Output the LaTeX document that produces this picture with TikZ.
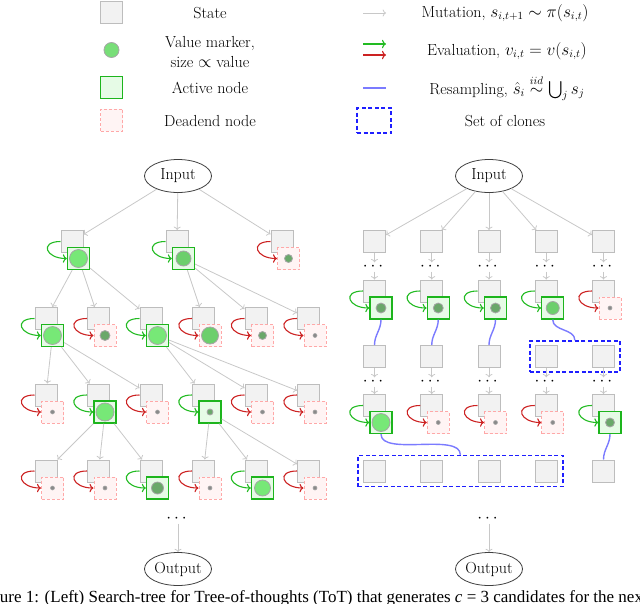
\documentclass[tikz,border=0pt]{standalone}
\usepackage{fontspec}
\usepackage{amsmath}
\usetikzlibrary{arrows.meta,positioning,fit,shapes.geometric}
\newfontfamily\capfont{Liberation Serif}
\definecolor{tsGrayFill}{HTML}{F2F2F2}
\definecolor{tsGrayDraw}{HTML}{BDBDBD}
\definecolor{tsActDraw}{HTML}{1DB51D}
\definecolor{tsActFill}{HTML}{E6FBE6}
\definecolor{tsDeadDraw}{HTML}{FFA8A8}
\definecolor{tsDeadFill}{HTML}{FFF4F4}
\definecolor{tsOk}{HTML}{22BB22}
\definecolor{tsNo}{HTML}{CC2222}
\definecolor{tsMut}{HTML}{C8C8C8}
\definecolor{tsRes}{HTML}{7B7BFF}
\definecolor{tsClone}{HTML}{1F1FFF}
\definecolor{tsMarkL}{HTML}{77E877}
\definecolor{tsMarkM}{HTML}{6CCF6C}
\definecolor{tsMarkS}{HTML}{6AA86A}
\definecolor{tsMarkT}{HTML}{8A8A8A}
\tikzset{
  tsstate/.style={
    rectangle, draw=tsGrayDraw, fill=tsGrayFill, line width=1pt,
    minimum size=22pt, inner sep=0pt
  },
  tsactive/.style={
    rectangle, draw=tsActDraw, fill=tsActFill, line width=1.3pt,
    minimum size=22pt, inner sep=0pt
  },
  tsdead/.style={
    rectangle, draw=tsDeadDraw, fill=tsDeadFill, line width=1pt,
    dash pattern=on 3pt off 2pt, minimum size=22pt, inner sep=0pt
  },
  tsoff/.style={xshift=6.5pt, yshift=-17pt},
  tsmark/.style={circle, draw=gray!70, line width=0.8pt, inner sep=0pt},
  tsmarkL/.style={tsmark, fill=tsMarkL, minimum size=18pt},
  tsmarkM/.style={tsmark, fill=tsMarkM, minimum size=14pt},
  tsmarkS/.style={tsmark, fill=tsMarkS, minimum size=10pt},
  tsmarkT/.style={tsmark, fill=tsMarkT, minimum size=4pt, line width=0.6pt},
  tsio/.style={
    ellipse, draw=black!75, line width=0.8pt,
    minimum width=67pt, minimum height=33pt, inner sep=0pt
  },
  tsdots/.style={inner sep=0pt, minimum height=9pt},
  tsmut/.style={-{To}, draw=tsMut, line width=0.8pt},
  tsevalok/.style={-{To}, draw=tsOk, line width=1.1pt, out=180, in=180, looseness=3},
  tsevalno/.style={-{To}, draw=tsNo, line width=1.1pt, out=180, in=180, looseness=3},
  tsres/.style={draw=tsRes, line width=1.4pt, out=-90, in=90},
  tsclones/.style={draw=tsClone, line width=1.5pt, dash pattern=on 4pt off 2.5pt,
    inner xsep=5pt, inner ysep=4pt},
  tslabel/.style={align=center, inner sep=0pt}
}

\begin{document}
\begin{tikzpicture}[x=1pt, y=-1pt, on grid, font=\fontsize{16pt}{20pt}\selectfont]
\clip (0,0) rectangle (640,603);

% Leyenda
\node[tsstate] (kState) at (111.5,12.5) {};
\node[tslabel] (tState) at (210,13) {State};
\node[tsmark, fill=tsMarkL!90!gray, minimum size=15pt] (kMark) at (111.5,50) {};
\node[tslabel] (tMark) at (210,52) {Value marker,\\ size $\propto$ value};
\node[tsactive] (kActive) at (111.5,87.5) {};
\node[tslabel] (tActive) at (210,88) {Active node};
\node[tsdead] (kDead) at (111.5,120) {};
\node[tslabel] (tDead) at (210,121) {Deadend node};

\coordinate (kMutA) at (363,13);  \coordinate (kMutB) at (386,13);
\coordinate (kOkA) at (363,44);   \coordinate (kOkB) at (386,44);
\coordinate (kNoA) at (363,55);   \coordinate (kNoB) at (386,55);
\coordinate (kResA) at (363,88);  \coordinate (kResB) at (386,88);
\draw[tsmut] (kMutA) -- (kMutB);
\draw[tsevalok] (kOkA) -- (kOkB);
\draw[tsevalno] (kNoA) -- (kNoB);
\draw[tsres] (kResA) -- (kResB);
\node[tsclones, minimum width=34pt, minimum height=25pt, inner sep=0pt] (kClone) at (374,120.5) {};
\node[tslabel] (tMut) at (505,13) {Mutation, $s_{i,t+1}\sim\pi(s_{i,t})$};
\node[tslabel] (tEval) at (507,51) {Evaluation, $v_{i,t}=v(s_{i,t})$};
\node[tslabel] (tRes) at (507,88) {Resampling, $\hat{s}_i\overset{iid}{\sim}\bigcup_j s_j$};
\node[tslabel] (tClone) at (505,121) {Set of clones};

% Árbol izquierdo: nivel 1
\node[tsio] (inL) at (178,176) {Input};
\node[tsstate] (l1a) at (72,241.5) {};
\node[tsstate, right=105pt of l1a] (l1b) {};
\node[tsstate, right=105pt of l1b] (l1c) {};
\node[tsactive, tsoff] (v1a) at (l1a) {}; \node[tsmarkL] (m1a) at (v1a) {};
\node[tsactive, tsoff] (v1b) at (l1b) {}; \node[tsmarkM, minimum size=15pt] (m1b) at (v1b) {};
\node[tsdead, tsoff] (v1c) at (l1c) {};   \node[tsmarkS, minimum size=8pt] (m1c) at (v1c) {};

% Árbol izquierdo: nivel 2
\node[tsstate] (l2a) at (46,318.5) {};
\node[tsstate, right=52.5pt of l2a] (l2b) {};
\node[tsstate, right=52.5pt of l2b] (l2c) {};
\node[tsstate, right=52.5pt of l2c] (l2d) {};
\node[tsstate, right=52.5pt of l2d] (l2e) {};
\node[tsstate, right=52.5pt of l2e] (l2f) {};
\node[tsactive, tsoff] (v2a) at (l2a) {}; \node[tsmarkL] (m2a) at (v2a) {};
\node[tsdead, tsoff] (v2b) at (l2b) {};   \node[tsmarkS] (m2b) at (v2b) {};
\node[tsactive, tsoff] (v2c) at (l2c) {}; \node[tsmarkL] (m2c) at (v2c) {};
\node[tsdead, tsoff] (v2d) at (l2d) {};   \node[tsmarkM, minimum size=17pt] (m2d) at (v2d) {};
\node[tsdead, tsoff] (v2e) at (l2e) {};   \node[tsmarkS, minimum size=8pt] (m2e) at (v2e) {};
\node[tsdead, tsoff] (v2f) at (l2f) {};   \node[tsmarkT] (m2f) at (v2f) {};

% Árbol izquierdo: nivel 3
\node[tsstate, below=76.5pt of l2a] (l3a) {};
\node[tsstate, right=52.5pt of l3a] (l3b) {};
\node[tsstate, right=52.5pt of l3b] (l3c) {};
\node[tsstate, right=52.5pt of l3c] (l3d) {};
\node[tsstate, right=52.5pt of l3d] (l3e) {};
\node[tsstate, right=52.5pt of l3e] (l3f) {};
\node[tsdead, tsoff] (v3a) at (l3a) {};   \node[tsmarkT] (m3a) at (v3a) {};
\node[tsactive, tsoff] (v3b) at (l3b) {}; \node[tsmarkL] (m3b) at (v3b) {};
\node[tsdead, tsoff] (v3c) at (l3c) {};   \node[tsmarkT] (m3c) at (v3c) {};
\node[tsactive, tsoff] (v3d) at (l3d) {}; \node[tsmarkS, minimum size=6pt] (m3d) at (v3d) {};
\node[tsdead, tsoff] (v3e) at (l3e) {};   \node[tsmarkT] (m3e) at (v3e) {};
\node[tsdead, tsoff] (v3f) at (l3f) {};   \node[tsmarkT] (m3f) at (v3f) {};

% Árbol izquierdo: nivel 4
\node[tsstate, below=76pt of l3a] (l4a) {};
\node[tsstate, right=52.5pt of l4a] (l4b) {};
\node[tsstate, right=52.5pt of l4b] (l4c) {};
\node[tsstate, right=52.5pt of l4c] (l4d) {};
\node[tsstate, right=52.5pt of l4d] (l4e) {};
\node[tsstate, right=52.5pt of l4e] (l4f) {};
\node[tsdead, tsoff] (v4a) at (l4a) {};   \node[tsmarkT] (m4a) at (v4a) {};
\node[tsdead, tsoff] (v4b) at (l4b) {};   \node[tsmarkT] (m4b) at (v4b) {};
\node[tsactive, tsoff] (v4c) at (l4c) {}; \node[tsmarkS, minimum size=12pt] (m4c) at (v4c) {};
\node[tsdead, tsoff] (v4d) at (l4d) {};   \node[tsmarkT] (m4d) at (v4d) {};
\node[tsactive, tsoff] (v4e) at (l4e) {}; \node[tsmarkL, minimum size=16pt] (m4e) at (v4e) {};
\node[tsdead, tsoff] (v4f) at (l4f) {};   \node[tsmarkT] (m4f) at (v4f) {};

\node[tsio] (outL) at (178,569) {Output};
\node[tsdots, above=50pt of outL] (dL) {$\cdots$};

% Árbol izquierdo: evaluaciones
\draw[tsevalok] (l1a.west) to (v1a.west); \draw[tsevalok] (l1b.west) to (v1b.west);
\draw[tsevalno] (l1c.west) to (v1c.west);
\draw[tsevalok] (l2a.west) to (v2a.west); \draw[tsevalno] (l2b.west) to (v2b.west);
\draw[tsevalok] (l2c.west) to (v2c.west); \draw[tsevalno] (l2d.west) to (v2d.west);
\draw[tsevalno] (l2e.west) to (v2e.west); \draw[tsevalno] (l2f.west) to (v2f.west);
\draw[tsevalno] (l3a.west) to (v3a.west); \draw[tsevalok] (l3b.west) to (v3b.west);
\draw[tsevalno] (l3c.west) to (v3c.west); \draw[tsevalok] (l3d.west) to (v3d.west);
\draw[tsevalno] (l3e.west) to (v3e.west); \draw[tsevalno] (l3f.west) to (v3f.west);
\draw[tsevalno] (l4a.west) to (v4a.west); \draw[tsevalno] (l4b.west) to (v4b.west);
\draw[tsevalok] (l4c.west) to (v4c.west); \draw[tsevalno] (l4d.west) to (v4d.west);
\draw[tsevalok] (l4e.west) to (v4e.west); \draw[tsevalno] (l4f.west) to (v4f.west);

% Árbol izquierdo: mutaciones
\draw[tsmut] (inL) -- (l1a); \draw[tsmut] (inL) -- (l1b); \draw[tsmut] (inL) -- (l1c);
\draw[tsmut] (v1a) -- (l2a); \draw[tsmut] (v1a) -- (l2b); \draw[tsmut] (v1a) -- (l2c);
\draw[tsmut] (v1b) -- (l2d); \draw[tsmut] (v1b) -- (l2e); \draw[tsmut] (v1b) -- (l2f);
\draw[tsmut] (v2a) -- (l3a); \draw[tsmut] (v2a) -- (l3b); \draw[tsmut] (v2a) -- (l3c);
\draw[tsmut] (v2c) -- (l3d); \draw[tsmut] (v2c) -- (l3e); \draw[tsmut] (v2c) -- (l3f);
\draw[tsmut] (v3b) -- (l4a); \draw[tsmut] (v3b) -- (l4b); \draw[tsmut] (v3b) -- (l4c);
\draw[tsmut] (v3d) -- (l4d); \draw[tsmut] (v3d) -- (l4e); \draw[tsmut] (v3d) -- (l4f);
\draw[tsmut] (dL) -- (outL);

% Árbol derecho: fila A
\node[tsio] (inR) at (489,176) {Input};
\node[tsstate] (ra1) at (374.5,241.5) {};
\node[tsstate, right=57.25pt of ra1] (ra2) {};
\node[tsstate, right=57.25pt of ra2] (ra3) {};
\node[tsstate, right=57.25pt of ra3] (ra4) {};
\node[tsstate, right=57.25pt of ra4] (ra5) {};
\node[tsdots, below=25.5pt of ra1] (da1) {$\cdots$};
\node[tsdots, below=25.5pt of ra2] (da2) {$\cdots$};
\node[tsdots, below=25.5pt of ra3] (da3) {$\cdots$};
\node[tsdots, below=25.5pt of ra4] (da4) {$\cdots$};
\node[tsdots, below=25.5pt of ra5] (da5) {$\cdots$};

% Árbol derecho: fila B
\node[tsstate, below=49.5pt of ra1] (rb1) {};
\node[tsstate, below=49.5pt of ra2] (rb2) {};
\node[tsstate, below=49.5pt of ra3] (rb3) {};
\node[tsstate, below=49.5pt of ra4] (rb4) {};
\node[tsstate, below=49.5pt of ra5] (rb5) {};
\node[tsactive, tsoff] (vb1) at (rb1) {}; \node[tsmarkS] (mb1) at (vb1) {};
\node[tsactive, tsoff] (vb2) at (rb2) {}; \node[tsmarkS] (mb2) at (vb2) {};
\node[tsactive, tsoff] (vb3) at (rb3) {}; \node[tsmarkS] (mb3) at (vb3) {};
\node[tsactive, tsoff] (vb4) at (rb4) {}; \node[tsmarkM, minimum size=13pt] (mb4) at (vb4) {};
\node[tsdead, tsoff] (vb5) at (rb5) {};   \node[tsmarkT] (mb5) at (vb5) {};

% Árbol derecho: fila C (clones)
\node[tsstate, below=65.5pt of rb1] (rc1) {};
\node[tsstate, below=65.5pt of rb2] (rc2) {};
\node[tsstate, below=65.5pt of rb3] (rc3) {};
\node[tsstate, below=65.5pt of rb4] (rc4) {};
\node[tsstate, below=65.5pt of rb5] (rc5) {};
\node[tsdots, below=25.5pt of rc1] (dc1) {$\cdots$};
\node[tsdots, below=25.5pt of rc2] (dc2) {$\cdots$};
\node[tsdots, below=25.5pt of rc3] (dc3) {$\cdots$};
\node[tsdots, below=25.5pt of rc4] (dc4) {$\cdots$};
\node[tsdots, below=25.5pt of rc5] (dc5) {$\cdots$};

% Árbol derecho: fila D
\node[tsstate, below=49pt of rc1] (rd1) {};
\node[tsstate, below=49pt of rc2] (rd2) {};
\node[tsstate, below=49pt of rc3] (rd3) {};
\node[tsstate, below=49pt of rc4] (rd4) {};
\node[tsstate, below=49pt of rc5] (rd5) {};
\node[tsactive, tsoff] (vd1) at (rd1) {}; \node[tsmarkL] (md1) at (vd1) {};
\node[tsdead, tsoff] (vd2) at (rd2) {};   \node[tsmarkT] (md2) at (vd2) {};
\node[tsdead, tsoff] (vd3) at (rd3) {};   \node[tsmarkT] (md3) at (vd3) {};
\node[tsdead, tsoff] (vd4) at (rd4) {};   \node[tsmarkT] (md4) at (vd4) {};
\node[tsactive, tsoff] (vd5) at (rd5) {}; \node[tsmarkS, minimum size=9pt] (md5) at (vd5) {};

% Árbol derecho: fila E
\node[tsstate, below=65.5pt of rd1] (re1) {};
\node[tsstate, below=65.5pt of rd2] (re2) {};
\node[tsstate, below=65.5pt of rd3] (re3) {};
\node[tsstate, below=65.5pt of rd4] (re4) {};
\node[tsstate, below=65.5pt of rd5] (re5) {};

\node[tsio] (outR) at (489,569) {Output};
\node[tsdots, above=50pt of outR] (dR) {$\cdots$};

% Conjuntos de clones
\node[tsclones, fit=(rc4)(rc5)] (cl1) {};
\node[tsclones, fit=(re1)(re4)] (cl2) {};

% Árbol derecho: mutaciones
\draw[tsmut] (inR) -- (ra1); \draw[tsmut] (inR) -- (ra2); \draw[tsmut] (inR) -- (ra3);
\draw[tsmut] (inR) -- (ra4); \draw[tsmut] (inR) -- (ra5);
\draw[tsmut] (ra1) -- (da1); \draw[tsmut] (da1) -- (rb1);
\draw[tsmut] (ra2) -- (da2); \draw[tsmut] (da2) -- (rb2);
\draw[tsmut] (ra3) -- (da3); \draw[tsmut] (da3) -- (rb3);
\draw[tsmut] (ra4) -- (da4); \draw[tsmut] (da4) -- (rb4);
\draw[tsmut] (ra5) -- (da5); \draw[tsmut] (da5) -- (rb5);
\draw[tsmut] (rc1) -- (dc1); \draw[tsmut] (dc1) -- (rd1);
\draw[tsmut] (rc2) -- (dc2); \draw[tsmut] (dc2) -- (rd2);
\draw[tsmut] (rc3) -- (dc3); \draw[tsmut] (dc3) -- (rd3);
\draw[tsmut] (rc4) -- (dc4); \draw[tsmut] (dc4) -- (rd4);
\draw[tsmut] (rc5) -- (dc5); \draw[tsmut] (dc5) -- (rd5);
\draw[tsmut] (dR) -- (outR);

% Árbol derecho: evaluaciones
\draw[tsevalok] (rb1.west) to (vb1.west); \draw[tsevalok] (rb2.west) to (vb2.west);
\draw[tsevalok] (rb3.west) to (vb3.west); \draw[tsevalok] (rb4.west) to (vb4.west);
\draw[tsevalno] (rb5.west) to (vb5.west);
\draw[tsevalok] (rd1.west) to (vd1.west); \draw[tsevalno] (rd2.west) to (vd2.west);
\draw[tsevalno] (rd3.west) to (vd3.west); \draw[tsevalno] (rd4.west) to (vd4.west);
\draw[tsevalok] (rd5.west) to (vd5.west);

% Remuestreo
\draw[tsres] (vb1.south) to (rc1.north);
\draw[tsres] (vb2.south) to (rc2.north);
\draw[tsres] (vb3.south) to (rc3.north);
\draw[tsres] (vb4.south) to (cl1.north);
\draw[tsres, looseness=0.7] (vd1.south) to (cl2.north);
\draw[tsres] (vd5.south) to (re5.north);

% Pie de figura (recortado)
\node[anchor=base west, inner sep=0pt, font=\capfont\fontsize{17pt}{20pt}\selectfont] (cap) at (-23,602.5)
  {Figure 1: (Left) Search-tree for Tree-of-thoughts (ToT) that generates \textit{c} = 3 candidates for the next};
\end{tikzpicture}
\end{document}
